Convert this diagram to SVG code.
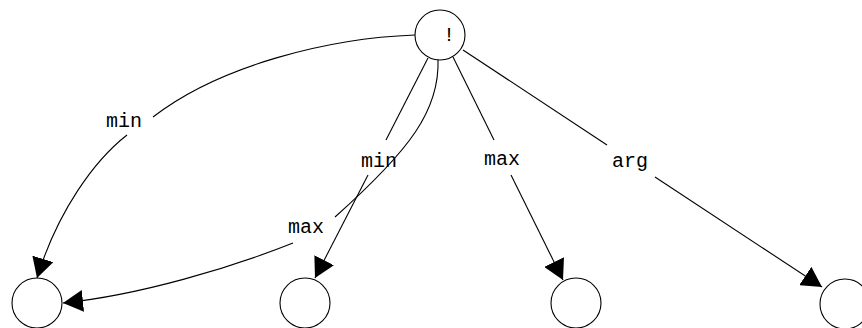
<svg xmlns="http://www.w3.org/2000/svg" width="862" height="328" viewBox="0 0 862 328">
  <style>
    .node circle { fill: #ffffff; stroke: #000000; stroke-width: 1.1; }
    .edge { fill: none; stroke: #000000; stroke-width: 1.1; }
    .lbl { font-family: "Liberation Mono", "DejaVu Sans Mono", monospace; font-size: 20px; fill: #000000; text-anchor: middle; }
  </style>
  <defs>
    <marker id="arrow" viewBox="0 0 20 22" refX="20" refY="11" markerWidth="20" markerHeight="22" markerUnits="userSpaceOnUse" orient="auto">
      <path d="M0,0 L20,11 L0,22 z" fill="#000000"/>
    </marker>
  </defs>
  <rect width="862" height="328" fill="#ffffff"/>

  <!-- connectors -->
  <g id="edges">
    <!-- root to n1 : min (wide left arc) -->
    <g id="e-min-n1">
      <path class="edge" d="M415,35 C330,38 220,65 153,117"/>
      <path class="edge" d="M127,135 C95,160 58,210 37,278" marker-end="url(#arrow)"/>
      <text class="lbl" x="124" y="127">min</text>
    </g>
    <!-- root to n1 : max -->
    <g id="e-max-n1">
      <path class="edge" d="M438,59 C440,110 410,150 335,217"/>
      <path class="edge" d="M293,243 C230,268 140,295 63,303" marker-end="url(#arrow)"/>
      <text class="lbl" x="306" y="233">max</text>
    </g>
    <!-- root to n2 : min -->
    <g id="e-min-n2">
      <path class="edge" d="M428,58 L386,140"/>
      <path class="edge" d="M368,175 L315,278" marker-end="url(#arrow)"/>
      <text class="lbl" x="379" y="167">min</text>
    </g>
    <!-- root to n3 : max -->
    <g id="e-max-n3">
      <path class="edge" d="M453,57 L494,140"/>
      <path class="edge" d="M511,175 L563,280" marker-end="url(#arrow)"/>
      <text class="lbl" x="502" y="165">max</text>
    </g>
    <!-- root to n4 : arg -->
    <g id="e-arg-n4">
      <path class="edge" d="M463,50 L607,145"/>
      <path class="edge" d="M655,177 L822,287" marker-end="url(#arrow)"/>
      <text class="lbl" x="630" y="167">arg</text>
    </g>
  </g>

  <!-- nodes -->
  <g id="root" class="node">
    <circle cx="440" cy="35" r="25"/>
    <text class="lbl" x="449" y="41">!</text>
  </g>
  <g id="n1" class="node">
    <circle cx="37" cy="303" r="25"/>
  </g>
  <g id="n2" class="node">
    <circle cx="305" cy="303" r="25"/>
  </g>
  <g id="n3" class="node">
    <circle cx="576" cy="303" r="25"/>
  </g>
  <g id="n4" class="node">
    <circle cx="845" cy="304" r="25"/>
  </g>
</svg>
